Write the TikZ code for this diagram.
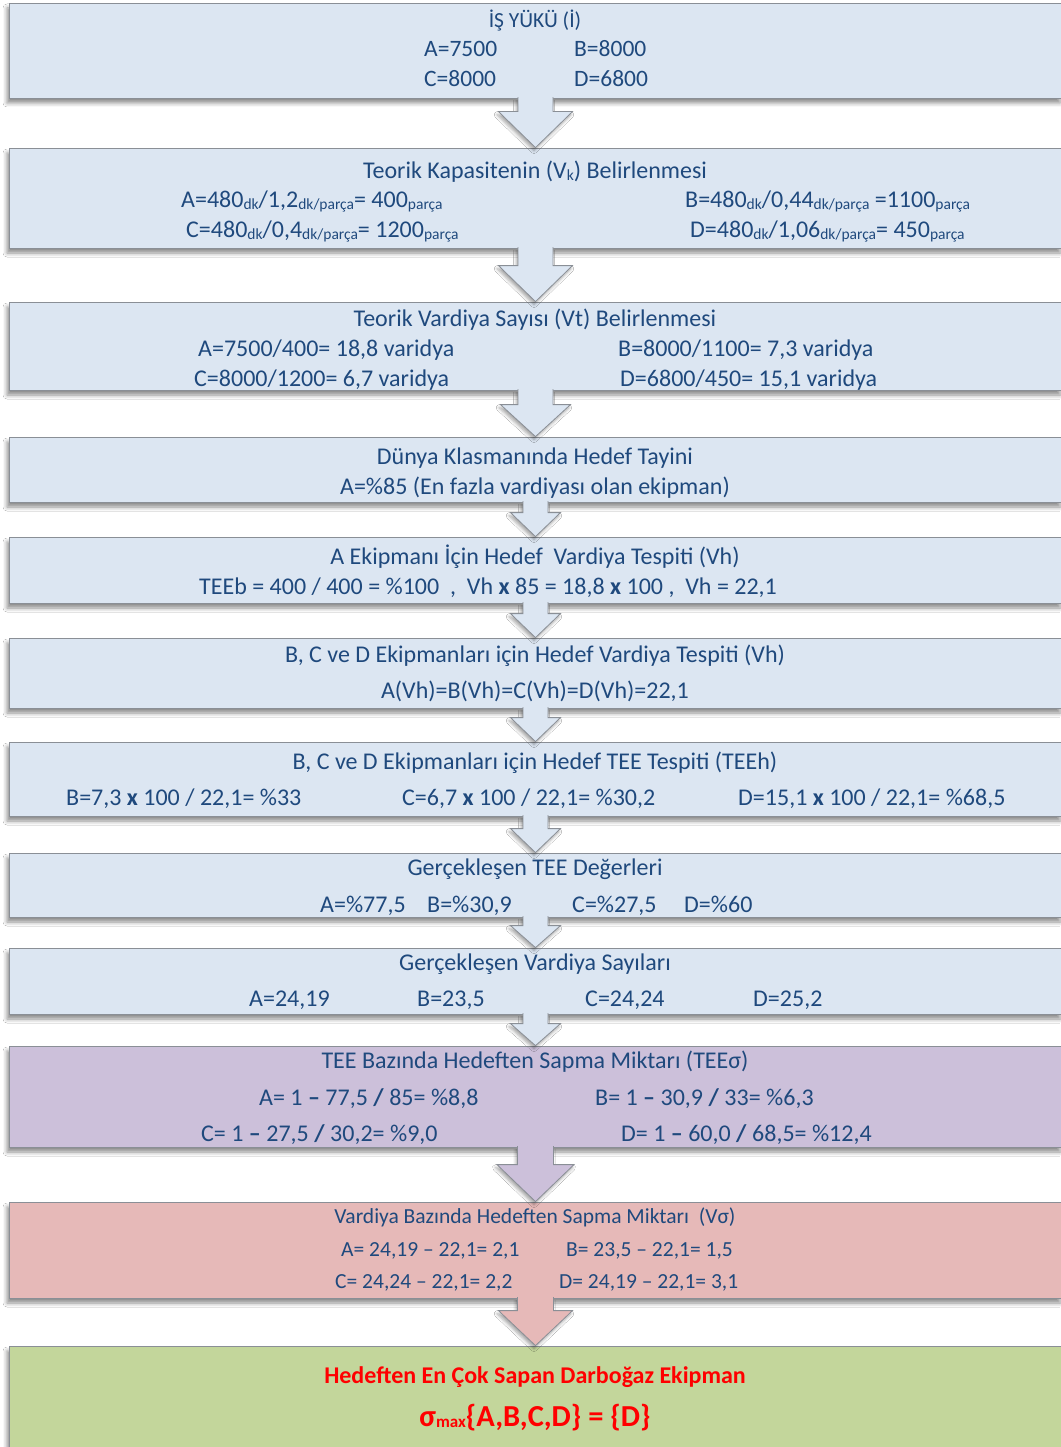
\documentclass[tikz,border=0pt]{standalone}
\usepackage{fontspec}
\setmainfont{Carlito}
\usetikzlibrary{calc,shadows.blur}

\definecolor{boxblue}{HTML}{DCE6F2}
\definecolor{boxpurple}{HTML}{CCC0DA}
\definecolor{boxpink}{HTML}{E6B9B8}
\definecolor{boxgreen}{HTML}{C3D69B}
\definecolor{txtblue}{HTML}{1F497D}
\definecolor{edgegray}{HTML}{8A8F96}
\definecolor{alertred}{HTML}{FF0000}

% small lowered unit text (dk, parça, max ...)
\newcommand\lowtxt[1]{\raisebox{-1.5pt}{\fontsize{15.5}{15.5}\selectfont #1}}
\newcommand\bx{\textbf{x}}

% block arrow from the bottom of one stage to the top of the next
% #1 from, #2 to, #3 half shaft width, #4 half head width, #5 head length, #6 fill
\newcommand\flowarrow[6]{%
  \path[blur shadow={shadow xshift=-1.5pt,shadow yshift=-3pt,shadow blur radius=3pt,shadow opacity=35},
        fill=#6, draw=edgegray, line width=0.8pt, line join=miter]
    let \p1=(#1.south), \p2=(#2.north) in
    (\x1-#3, \y1+1.2pt) -- (\x1-#3, \y2+#5) -- (\x1-#4, \y2+#5) -- (\x1, \y2)
    -- (\x1+#4, \y2+#5) -- (\x1+#3, \y2+#5) -- (\x1+#3, \y1+1.2pt);
}

\tikzset{
  stage/.style={draw=edgegray, line width=0.8pt, minimum width=1053pt, inner sep=0pt,
    blur shadow={shadow xshift=-2pt, shadow yshift=-5pt, shadow blur radius=4pt, shadow opacity=45}},
  lbl/.style={text=txtblue, inner sep=0pt, font=\fontsize{24}{24}\selectfont},
  lblsmall/.style={text=txtblue, inner sep=0pt, font=\fontsize{21.5}{22}\selectfont},
  lblred/.style={text=alertred, inner sep=0pt, font=\fontsize{24}{24}\selectfont\bfseries},
}

\begin{document}
\begin{tikzpicture}[x=1pt,y=-1pt]
\fill[white] (0,0) rectangle (1060,1447);
\useasboundingbox (0,0) rectangle (1060,1447);

% ---- stages ----
\node[stage, fill=boxblue,   minimum height=95pt]  (s1)  at (535.5,50.5)  {};
\node[stage, fill=boxblue,   minimum height=100pt] (s2)  at (535.5,198)   {};
\node[stage, fill=boxblue,   minimum height=88pt]  (s3)  at (535.5,346)   {};
\node[stage, fill=boxblue,   minimum height=65pt]  (s4)  at (535.5,469.5) {};
\node[stage, fill=boxblue,   minimum height=66pt]  (s5)  at (535.5,570)   {};
\node[stage, fill=boxblue,   minimum height=70pt]  (s6)  at (535.5,673)   {};
\node[stage, fill=boxblue,   minimum height=74pt]  (s7)  at (535.5,779)   {};
\node[stage, fill=boxblue,   minimum height=64pt]  (s8)  at (535.5,885)   {};
\node[stage, fill=boxblue,   minimum height=66pt]  (s9)  at (535.5,981)   {};
\node[stage, fill=boxpurple, minimum height=101pt] (s10) at (535.5,1096.5){};
\node[stage, fill=boxpink,   minimum height=96pt]  (s11) at (535.5,1250)  {};
\node[stage, fill=boxgreen,  minimum height=114pt] (s12) at (535.5,1403)  {};

% ---- arrows between stages ----
\flowarrow{s1}{s2}{17.5pt}{37pt}{36pt}{boxblue}
\flowarrow{s2}{s3}{17.5pt}{37pt}{36pt}{boxblue}
\flowarrow{s3}{s4}{17.5pt}{35pt}{32pt}{boxblue}
\flowarrow{s4}{s5}{12.5pt}{25pt}{24pt}{boxblue}
\flowarrow{s5}{s6}{12.5pt}{25pt}{24pt}{boxblue}
\flowarrow{s6}{s7}{12.5pt}{25pt}{24pt}{boxblue}
\flowarrow{s7}{s8}{12.5pt}{25pt}{24pt}{boxblue}
\flowarrow{s8}{s9}{12.5pt}{25pt}{22pt}{boxblue}
\flowarrow{s9}{s10}{12.5pt}{25pt}{22pt}{boxblue}
\flowarrow{s10}{s11}{18pt}{38.5pt}{37pt}{boxpurple}
\flowarrow{s11}{s12}{18pt}{37pt}{35pt}{boxpink}

% ---- stage 1 ----
\node[lbl, anchor=base, font=\fontsize{21.5}{22}\selectfont] (t1) at (535,28) {İŞ YÜKÜ (İ)};
\node[lbl, anchor=base west, font=\fontsize{23.5}{24}\selectfont] (t1a) at (424,57) {A=7500};
\node[lbl, anchor=base west, font=\fontsize{23.5}{24}\selectfont] (t1b) at (574,57) {B=8000};
\node[lbl, anchor=base west, font=\fontsize{23.5}{24}\selectfont] (t1c) at (424,87) {C=8000};
\node[lbl, anchor=base west, font=\fontsize{23.5}{24}\selectfont] (t1d) at (574,87) {D=6800};

% ---- stage 2 ----
\node[lbl, anchor=base] (t2) at (535,179) {Teorik Kapasitenin (V\lowtxt{k}) Belirlenmesi};
\node[lbl, anchor=base west] (t2a) at (181,208) {A=480\lowtxt{dk}/1,2\lowtxt{dk/parça}= 400\lowtxt{parça}};
\node[lbl, anchor=base west] (t2b) at (685,208) {B=480\lowtxt{dk}/0,44\lowtxt{dk/parça} =1100\lowtxt{parça}};
\node[lbl, anchor=base west] (t2c) at (186,238) {C=480\lowtxt{dk}/0,4\lowtxt{dk/parça}= 1200\lowtxt{parça}};
\node[lbl, anchor=base west] (t2d) at (690,238) {D=480\lowtxt{dk}/1,06\lowtxt{dk/parça}= 450\lowtxt{parça}};

% ---- stage 3 ----
\node[lbl, anchor=base] (t3) at (535,326) {Teorik Vardiya Sayısı (Vt) Belirlenmesi};
\node[lbl, anchor=base west] (t3a) at (198,356) {A=7500/400= 18,8 varidya};
\node[lbl, anchor=base west] (t3b) at (618,356) {B=8000/1100= 7,3 varidya};
\node[lbl, anchor=base west] (t3c) at (194,386) {C=8000/1200= 6,7 varidya};
\node[lbl, anchor=base west] (t3d) at (620,386) {D=6800/450= 15,1 varidya};

% ---- stage 4 ----
\node[lbl, anchor=base] (t4)  at (535,464) {Dünya Klasmanında Hedef Tayini};
\node[lbl, anchor=base] (t4a) at (535,494) {A=\%85 (En fazla vardiyası olan ekipman)};

% ---- stage 5 ----
\node[lbl, anchor=base] (t5) at (535,564) {A Ekipmanı İçin Hedef~~Vardiya Tespiti (Vh)};
\node[lbl, anchor=base west] (t5a) at (199,594) {TEEb = 400 / 400 = \%100~~,~~Vh \bx{} 85 = 18,8 \bx{} 100 ,~~Vh = 22,1};

% ---- stage 6 ----
\node[lbl, anchor=base] (t6)  at (535,662) {B, C ve D Ekipmanları için Hedef Vardiya Tespiti (Vh)};
\node[lbl, anchor=base] (t6a) at (535,698) {A(Vh)=B(Vh)=C(Vh)=D(Vh)=22,1};

% ---- stage 7 ----
\node[lbl, anchor=base] (t7) at (535,769) {B, C ve D Ekipmanları için Hedef TEE Tespiti (TEEh)};
\node[lbl, anchor=base west] (t7a) at (66,805)  {B=7,3 \bx{} 100 / 22,1= \%33};
\node[lbl, anchor=base west] (t7b) at (402,805) {C=6,7 \bx{} 100 / 22,1= \%30,2};
\node[lbl, anchor=base west] (t7c) at (738,805) {D=15,1 \bx{} 100 / 22,1= \%68,5};

% ---- stage 8 ----
\node[lbl, anchor=base] (t8) at (535,875) {Gerçekleşen TEE Değerleri};
\node[lbl, anchor=base west] (t8a) at (320,912) {A=\%77,5};
\node[lbl, anchor=base west] (t8b) at (427,912) {B=\%30,9};
\node[lbl, anchor=base west] (t8c) at (572,912) {C=\%27,5};
\node[lbl, anchor=base west] (t8d) at (684,912) {D=\%60};

% ---- stage 9 ----
\node[lbl, anchor=base] (t9) at (535,970) {Gerçekleşen Vardiya Sayıları};
\node[lbl, anchor=base west] (t9a) at (249,1006) {A=24,19};
\node[lbl, anchor=base west] (t9b) at (417,1006) {B=23,5};
\node[lbl, anchor=base west] (t9c) at (585,1006) {C=24,24};
\node[lbl, anchor=base west] (t9d) at (753,1006) {D=25,2};

% ---- stage 10 ----
\node[lbl, anchor=base] (t10) at (535,1068) {TEE Bazında Hedeften Sapma Miktarı (TEEσ)};
\node[lbl, anchor=base west] (t10a) at (259,1105) {A= 1 \textbf{–} 77,5 \textbf{/} 85= \%8,8};
\node[lbl, anchor=base west] (t10b) at (595,1105) {B= 1 \textbf{–} 30,9 \textbf{/} 33= \%6,3};
\node[lbl, anchor=base west] (t10c) at (201,1141) {C= 1 \textbf{–} 27,5 \textbf{/} 30,2= \%9,0};
\node[lbl, anchor=base west] (t10d) at (621,1141) {D= 1 \textbf{–} 60,0 \textbf{/} 68,5= \%12,4};

% ---- stage 11 ----
\node[lblsmall, anchor=base] (t11) at (535,1223) {Vardiya Bazında Hedeften Sapma Miktarı~~(Vσ)};
\node[lblsmall, anchor=base west] (t11a) at (341,1256) {A= 24,19 – 22,1= 2,1};
\node[lblsmall, anchor=base west] (t11b) at (566,1256) {B= 23,5 – 22,1= 1,5};
\node[lblsmall, anchor=base west] (t11c) at (335,1288) {C= 24,24 – 22,1= 2,2};
\node[lblsmall, anchor=base west] (t11d) at (559,1288) {D= 24,19 – 22,1= 3,1};

% ---- stage 12 ----
\node[lblred, anchor=base] (t12) at (535,1383) {Hedeften En Çok Sapan Darboğaz Ekipman};
\node[lblred, anchor=base, font=\fontsize{30.5}{30.5}\selectfont\bfseries] (t12a) at (535,1426)
  {σ\lowtxt{\fontsize{17}{17}\selectfont\bfseries max}\{A,B,C,D\} = \{D\}};
\end{tikzpicture}
\end{document}
